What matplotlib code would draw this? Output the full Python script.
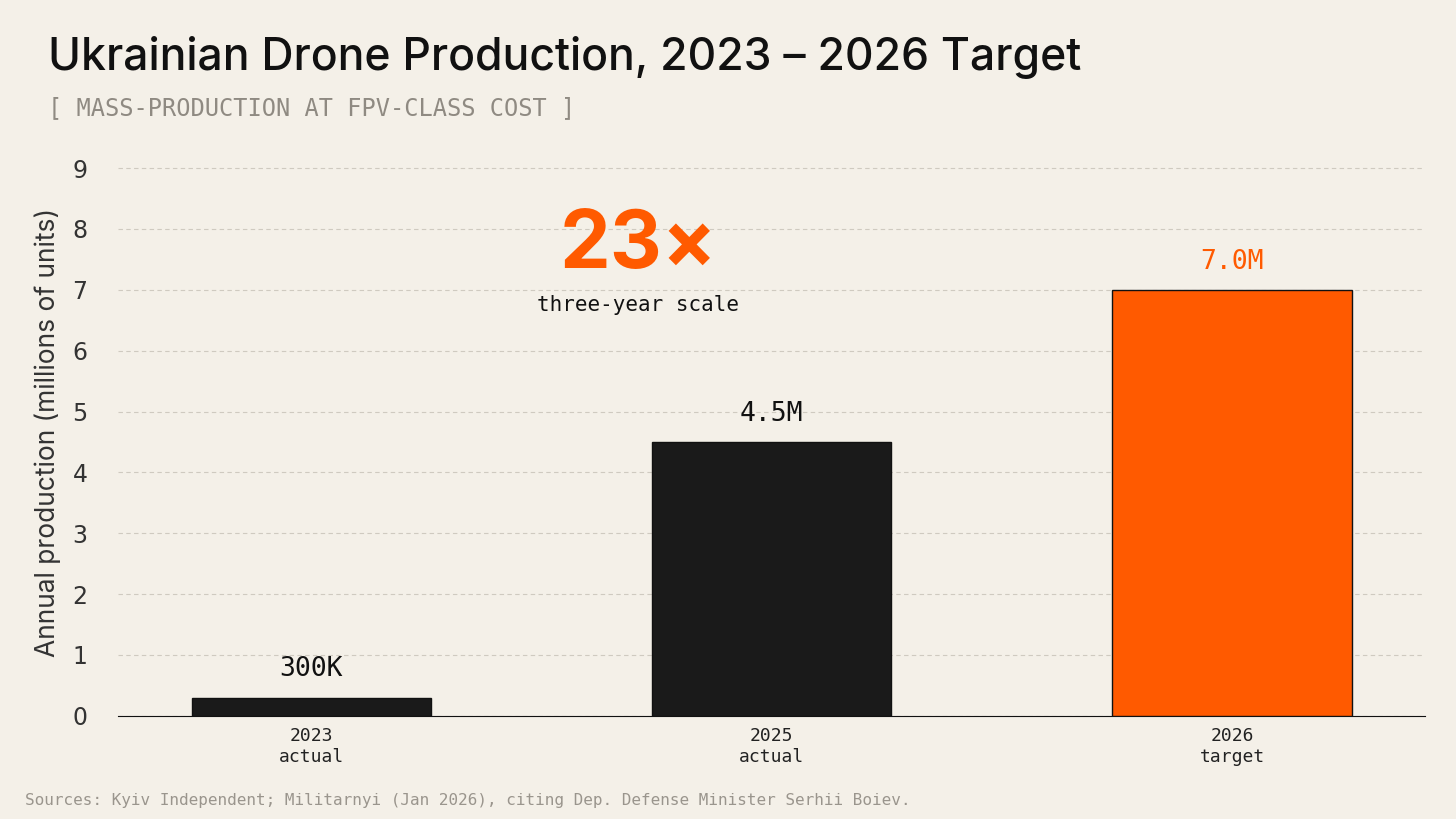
import matplotlib
matplotlib.use("Agg")
import matplotlib.pyplot as plt

years = ["2023\nactual", "2025\nactual", "2026\ntarget"]
values = [0.3, 4.5, 7.0]
labels = ["300K", "4.5M", "7.0M"]
colors = ["#1a1a1a", "#1a1a1a", "#ff5a00"]
yticks = list(range(0, 10))

bg = "#f4f0e8"
fig = plt.figure(figsize=(14.56, 8.19), dpi=100, facecolor=bg)
ax = fig.add_axes([0.081, 0.126, 0.898, 0.691], facecolor=bg)
x = list(range(len(values)))
ax.bar(x, values, width=0.52, color=colors, edgecolor="#111111", linewidth=1, zorder=3)
for xi, v, l, c in zip(x, values, labels, colors):
    ax.text(xi, v + 0.25, l, ha="center", va="bottom", fontsize=19,
            family="DejaVu Sans Mono", color=c if c != "#1a1a1a" else "#111111")
ax.set_xlim(-0.42, 2.42)
ax.set_ylim(0, 9.3)
ax.set_yticks(yticks)
ax.set_yticklabels([str(t) for t in yticks], fontsize=17, color="#333333")
ax.set_xticks(x)
ax.set_xticklabels(years, family="DejaVu Sans Mono", fontsize=13, color="#222222")
ax.tick_params(axis="y", length=0, pad=22)
ax.tick_params(axis="x", length=0, pad=8)
ax.grid(axis="y", color="#cfcac0", linestyle=(0, (4, 3)), linewidth=0.8, zorder=0)
for s in ["top", "right", "left"]:
    ax.spines[s].set_visible(False)
ax.spines["bottom"].set_color("#111111")
ax.set_ylabel("Annual production (millions of units)", fontsize=19, color="#333333",
              family="Inter", labelpad=8)

ax.text(0.71, 7.7, "23×", ha="center", va="center", fontsize=58, fontweight="bold",
        color="#ff5a00", family="Inter")
ax.text(0.71, 6.75, "three-year scale", ha="center", va="center", fontsize=15,
        family="DejaVu Sans Mono", color="#111111")

fig.text(0.033, 0.93, "Ukrainian Drone Production, 2023 – 2026 Target", fontsize=32,
         family="Inter", fontweight="medium", color="#111111", va="center")
fig.text(0.033, 0.868, "[ MASS-PRODUCTION AT FPV-CLASS COST ]", fontsize=17,
         family="DejaVu Sans Mono", color="#8f8a82", va="center")
fig.text(0.017, 0.022, "Sources: Kyiv Independent; Militarnyi (Jan 2026), citing Dep. Defense Minister Serhii Boiev.",
         fontsize=11.5, family="DejaVu Sans Mono", color="#9a958d", va="center")
fig.savefig("out.png", dpi=100, facecolor=bg)
